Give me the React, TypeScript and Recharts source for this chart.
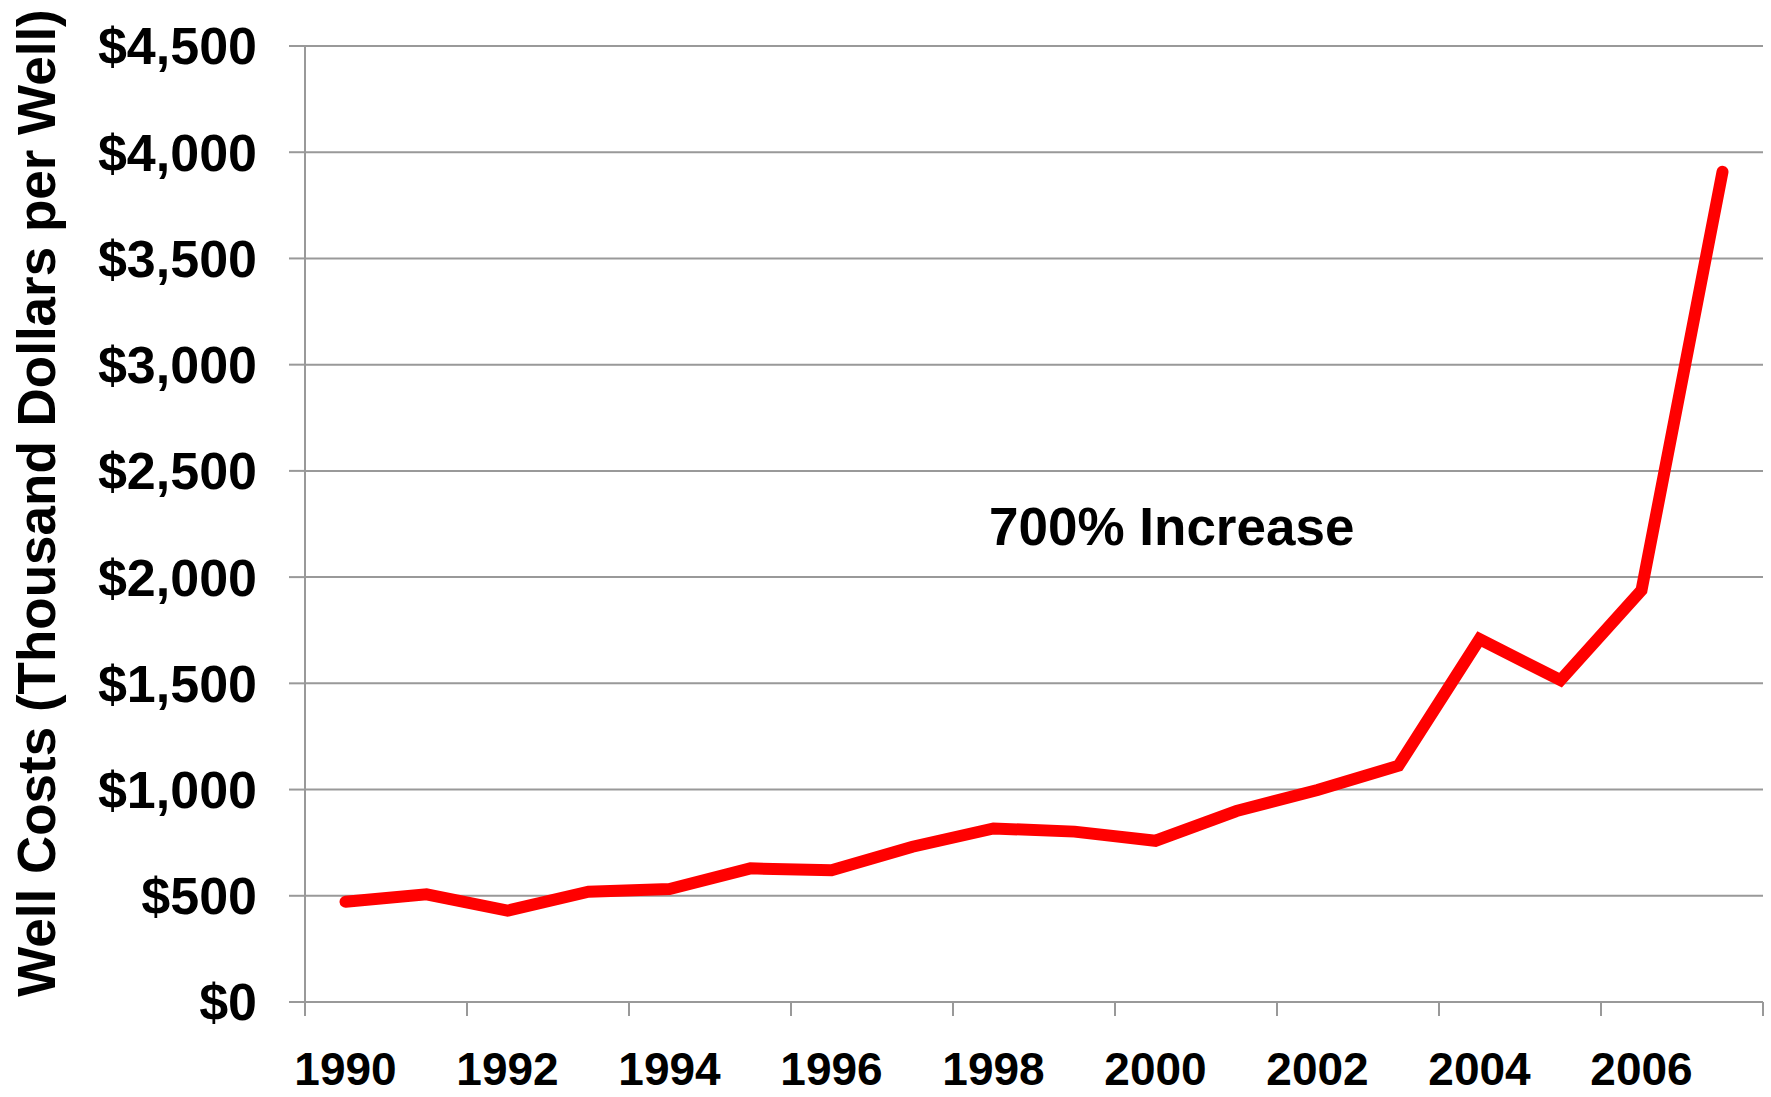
import { ComposedChart, Line, XAxis, YAxis, CartesianGrid, ReferenceDot } from 'recharts';

const years = [1990, 1991, 1992, 1993, 1994, 1995, 1996, 1997, 1998, 1999, 2000, 2001, 2002, 2003, 2004, 2005, 2006, 2007];
const wellCosts = [472, 507, 430, 519, 532, 629, 620, 731, 817, 802, 759, 899, 998, 1112, 1708, 1515, 1938, 3908];
const costTicks = [0, 500, 1000, 1500, 2000, 2500, 3000, 3500, 4000, 4500];
const yearLabels = [1990, 1992, 1994, 1996, 1998, 2000, 2002, 2004, 2006];

const data = years.map((year, i) => ({ year, cost: wellCosts[i] }));

// tick marks sit on the category edges, labels in the middle of the category
const firstYear = years[0];
const lastYear = years[years.length - 1];
const edgeTicks = [...yearLabels.map((y) => y - 0.5), lastYear + 0.5];
const xTicks = [...edgeTicks, ...yearLabels].sort((a, b) => a - b);

// where the annotation text is centred, in data units
const note = { text: '700% Increase', year: 2000.2, cost: 2240 };

const FONT = '"Liberation Sans", Arial, Helvetica, sans-serif';
const GRID = '#999999';
const TICK_LEN = 14;

function YearTick(props: any) {
  const { x, y, payload } = props;
  const v = payload.value as number;
  if (!Number.isInteger(v)) {
    return <line x1={x} x2={x} y1={y - TICK_LEN} y2={y} stroke={GRID} strokeWidth={2} />;
  }
  return (
    <text x={x} y={y + 69} textAnchor="middle" fontFamily={FONT} fontSize={46} fontWeight="bold" fill="#000">
      {v}
    </text>
  );
}

function AxisTitle() {
  return (
    <text
      x={36}
      y={503}
      transform="rotate(-90 36 503)"
      textAnchor="middle"
      dominantBaseline="central"
      fontFamily={FONT}
      fontSize={53}
      fontWeight="bold"
      fill="#000"
    >
      Well Costs (Thousand Dollars per Well)
    </text>
  );
}

export default function App() {
  return (
    <div style={{ position: 'absolute', left: 0, top: 0, width: 1771, height: 1097, background: '#fff' }}>
      <ComposedChart width={1771} height={1097} data={data} margin={{ top: 46, right: 8, bottom: 0, left: 0 }}>
        <CartesianGrid vertical={false} stroke={GRID} strokeWidth={2} />
        <XAxis
          dataKey="year"
          type="number"
          domain={[firstYear - 0.5, lastYear + 0.5]}
          ticks={xTicks}
          interval={0}
          height={95}
          tickSize={TICK_LEN}
          tickMargin={0}
          tickLine={false}
          axisLine={{ stroke: GRID, strokeWidth: 2 }}
          tick={<YearTick />}
        />
        <YAxis
          type="number"
          domain={[0, 4500]}
          ticks={costTicks}
          interval={0}
          width={305}
          tickSize={16}
          tickMargin={32}
          axisLine={{ stroke: GRID, strokeWidth: 2 }}
          tickLine={{ stroke: GRID, strokeWidth: 2 }}
          tick={{ fontFamily: FONT, fontSize: 52, fontWeight: 'bold', fill: '#000' }}
          tickFormatter={(v: number) => `$${v.toLocaleString('en-US')}`}
          label={{ content: () => <AxisTitle /> }}
        />
        <ReferenceDot
          x={note.year}
          y={note.cost}
          r={0}
          fill="none"
          stroke="none"
          label={{
            value: note.text,
            position: 'center',
            fontFamily: FONT,
            fontSize: 53,
            fontWeight: 'bold',
            fill: '#000',
          }}
        />
        <Line
          type="linear"
          dataKey="cost"
          stroke="#ff0000"
          strokeWidth={12}
          strokeLinecap="round"
          dot={false}
          activeDot={false}
          isAnimationActive={false}
        />
      </ComposedChart>
    </div>
  );
}
